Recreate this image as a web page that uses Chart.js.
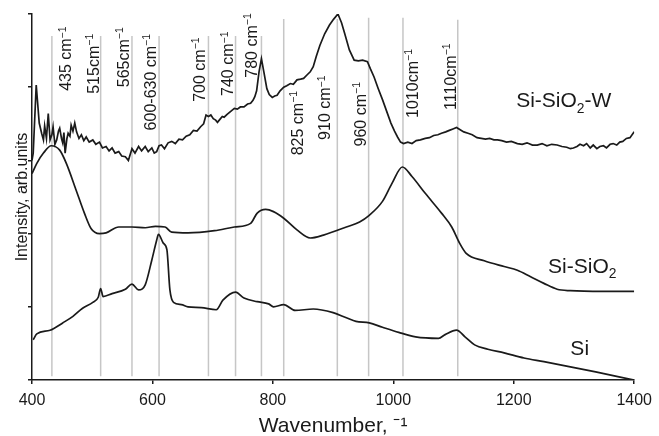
<!DOCTYPE html>
<html>
<head>
<meta charset="utf-8">
<script src="https://cdn.jsdelivr.net/npm/chart.js@4.4.1/dist/chart.umd.min.js"></script>
<style>
  html, body { margin: 0; padding: 0; background: #fff; }
  #wrap { position: relative; width: 659px; height: 436px; }
</style>
</head>
<body>
<div id="wrap"><canvas id="spectra"></canvas></div>
<script>
// Spectra: [wavenumber, intensity (arb. units, stacked)]
const siSpectrum = [
  [402,0.55],[408,0.63],[430,0.68],[451,0.78],[468,0.87],[484,0.98],[501,1.06],[510,1.13],
  [514,1.25],[518,1.14],[533,1.18],[555,1.24],[566,1.31],[577,1.23],[588,1.30],[599,1.64],
  [607,1.91],[610,1.99],[618,1.87],[624,1.78],[629,1.23],[635,1.06],[648,1.03],[659,1.00],
  [681,0.99],[706,0.96],[717,1.09],[738,1.20],[752,1.12],[774,1.07],[793,1.04],[801,1.00],
  [818,1.03],[837,0.95],[867,0.97],[900,0.92],[922,0.85],[938,0.80],[960,0.78],[982,0.72],
  [1009,0.65],[1037,0.59],[1075,0.57],[1086,0.62],[1105,0.68],[1119,0.59],[1135,0.48],
  [1157,0.42],[1184,0.37],[1217,0.30],[1250,0.25],[1294,0.18],[1336,0.11],[1400,0.00]
];

const sio2Spectrum = [
  [400,2.82],[408,2.96],[419,3.10],[432,3.20],[446,3.14],[457,2.96],[473,2.60],[487,2.28],
  [498,2.07],[512,2.00],[523,2.01],[544,2.09],[566,2.09],[588,2.08],[605,2.10],[621,2.09],
  [632,2.02],[659,2.01],[703,2.04],[736,2.09],[763,2.14],[774,2.28],[788,2.33],[801,2.30],
  [818,2.21],[840,2.05],[862,1.94],[884,1.98],[922,2.09],[944,2.16],[960,2.25],[982,2.44],
  [998,2.69],[1015,2.91],[1031,2.78],[1053,2.55],[1080,2.28],[1097,2.09],[1110,1.87],
  [1121,1.73],[1151,1.63],[1184,1.55],[1206,1.50],[1228,1.41],[1250,1.32],[1272,1.24],
  [1294,1.22],[1348,1.21],[1400,1.21]
];

const sio2wSpectrum = [
  [400,3.00],[402,3.10],[407,4.03],[412,3.51],[416,3.37],[419,3.28],[421,3.47],[424,3.30],
  [427,3.64],[430,3.28],[433,3.35],[435,3.46],[438,3.22],[441,3.28],[444,3.40],[446,3.44],
  [449,3.30],[451,3.24],[453,3.38],[455,3.10],[458,3.30],[460,3.37],[463,3.33],[465,3.48],
  [468,3.40],[471,3.51],[474,3.39],[478,3.30],[482,3.35],[486,3.27],[490,3.32],[495,3.25],
  [501,3.28],[506,3.22],[512,3.25],[517,3.17],[523,3.19],[528,3.13],[533,3.17],[538,3.10],
  [544,3.12],[549,3.06],[555,3.05],[560,3.00],[566,3.16],[571,3.10],[577,3.19],[582,3.13],
  [588,3.19],[593,3.12],[599,3.17],[603,3.10],[607,3.12],[611,3.20],[615,3.21],[620,3.16],
  [626,3.24],[632,3.26],[638,3.23],[644,3.29],[650,3.28],[656,3.33],[662,3.35],[668,3.41],
  [674,3.40],[680,3.46],[685,3.50],[689,3.62],[693,3.60],[697,3.62],[701,3.57],[705,3.55],
  [708,3.52],[712,3.56],[716,3.60],[719,3.59],[724,3.63],[730,3.67],[736,3.71],[741,3.70],
  [746,3.73],[752,3.73],[758,3.77],[763,3.78],[767,3.82],[770,3.87],[773,3.95],[777,4.21],
  [781,4.39],[785,4.21],[790,3.98],[794,3.90],[799,3.86],[803,3.88],[807,3.89],[812,3.95],
  [818,4.00],[823,4.02],[829,4.05],[834,4.04],[840,4.10],[846,4.11],[851,4.12],[857,4.17],
  [862,4.21],[867,4.28],[872,4.42],[878,4.57],[886,4.73],[894,4.85],[901,4.93],[908,5.00],
  [914,4.88],[919,4.74],[927,4.51],[935,4.37],[942,4.36],[949,4.37],[957,4.35],[962,4.25],
  [968,4.14],[975,3.98],[982,3.83],[989,3.67],[996,3.51],[1002,3.40],[1007,3.32],[1012,3.25],
  [1017,3.23],[1024,3.25],[1031,3.23],[1038,3.27],[1045,3.28],[1053,3.30],[1060,3.31],
  [1067,3.34],[1074,3.35],[1080,3.37],[1087,3.39],[1093,3.41],[1099,3.43],[1105,3.45],
  [1111,3.42],[1117,3.39],[1124,3.37],[1131,3.35],[1139,3.31],[1146,3.30],[1153,3.29],
  [1160,3.30],[1167,3.28],[1173,3.28],[1180,3.27],[1188,3.25],[1196,3.26],[1206,3.23],
  [1214,3.22],[1222,3.24],[1231,3.21],[1239,3.21],[1247,3.23],[1255,3.20],[1263,3.22],
  [1272,3.21],[1280,3.19],[1288,3.18],[1294,3.16],[1299,3.17],[1305,3.19],[1310,3.22],
  [1316,3.20],[1321,3.23],[1327,3.17],[1332,3.21],[1338,3.16],[1343,3.19],[1349,3.20],
  [1354,3.17],[1360,3.22],[1365,3.23],[1371,3.21],[1376,3.25],[1381,3.26],[1387,3.30],
  [1393,3.31],[1400,3.39]
];

// Marked band positions and their labels
const peakWn   = [433, 514, 566, 611, 693, 738, 781, 818, 907, 959, 1016, 1107];
const peakTop  = [4.70, 4.70, 4.70, 4.70, 4.70, 4.70, 4.70, 4.93, 4.93, 4.95, 4.95, 4.92];
const peakText = ['435 cm', '515cm', '565cm', '600-630 cm', '700 cm', '740 cm',
                  '780 cm', '825 cm', '910 cm', '960 cm', '1010cm', '1110cm'];

const xTicks = [400, 600, 800, 1000, 1200, 1400];

// where each rotated label starts (wavenumber of its centre line, intensity of its lower end)
const peakLabelAt = [
  [456, 3.95], [502, 3.91], [551, 4.00], [596, 3.41], [677, 3.80], [725, 3.88],
  [764, 4.13], [840, 3.07], [886, 3.28], [945, 3.19], [1031, 3.58], [1094, 3.69]
];
const seriesLabelAt = [[1204, 3.83], [1257, 1.57], [1294, 0.45]];
const seriesNames = [
  [{ t: 'Si-SiO' }, { t: '2', sub: true }, { t: '-W' }],
  [{ t: 'Si-SiO' }, { t: '2', sub: true }],
  [{ t: 'Si' }]
];

const FONT = 'Arial, "Liberation Sans", sans-serif';
const INK = '#1a1a1a';

function toPoints(arr) {
  return arr.map(p => ({ x: p[0], y: p[1] }));
}

function drawRich(ctx, parts, x, y, size, rotated) {
  ctx.save();
  ctx.translate(x, y);
  if (rotated) ctx.rotate(-Math.PI / 2);
  ctx.fillStyle = INK;
  ctx.textBaseline = 'alphabetic';
  ctx.textAlign = 'left';
  const base = size * 0.36;
  let cx = 0;
  for (const p of parts) {
    const s = (p.sup || p.sub) ? size * 0.66 : size;
    ctx.font = `${s}px ${FONT}`;
    const dy = p.sup ? -size * 0.36 : p.sub ? size * 0.26 : 0;
    ctx.fillText(p.t, cx, base + dy);
    cx += ctx.measureText(p.t).width;
  }
  ctx.restore();
}

const labelsPlugin = {
  id: 'spectraLabels',
  afterDatasetsDraw(chart) {
    const { ctx, scales: { x, y } } = chart;
    peakText.forEach((txt, i) => {
      const px = x.getPixelForValue(peakLabelAt[i][0]);
      const py = y.getPixelForValue(peakLabelAt[i][1]);
      drawRich(ctx, [{ t: txt }, { t: '\u22121', sup: true }], px, py, 16, true);
    });
    seriesNames.forEach((parts, i) => {
      const px = x.getPixelForValue(seriesLabelAt[i][0]);
      const py = y.getPixelForValue(seriesLabelAt[i][1]);
      drawRich(ctx, parts, px, py, 21, false);
    });
  }
};

const peakLines = peakWn.map((wn, i) => ({
  data: [{ x: wn, y: 0.05 }, { x: wn, y: peakTop[i] }],
  borderColor: '#c6c6c6',
  borderWidth: 1.5,
  pointRadius: 0,
  order: 2
}));

const curve = (arr, smooth) => ({
  data: toPoints(arr),
  borderColor: INK,
  borderWidth: 1.7,
  pointRadius: 0,
  tension: 0,
  cubicInterpolationMode: smooth ? 'monotone' : 'default',
  order: 1
});

new Chart(document.getElementById('spectra'), {
  type: 'line',
  data: {
    datasets: [
      ...peakLines,
      curve(sio2wSpectrum, false),
      curve(sio2Spectrum, true),
      curve(siSpectrum, true)
    ]
  },
  options: {
    responsive: true,
    maintainAspectRatio: false,
    animation: false,
    events: [],
    layout: { padding: { left: 0, right: 18, top: 14, bottom: 0 } },
    plugins: { legend: { display: false }, tooltip: { enabled: false } },
    scales: {
      x: {
        type: 'linear',
        min: 400,
        max: 1400,
        afterBuildTicks: s => { s.ticks = xTicks.map(v => ({ value: v })); },
        afterFit: s => { s.height = 56; },
        grid: { display: true, drawOnChartArea: false, drawTicks: true, tickLength: 4, color: INK, lineWidth: 1.5 },
        border: { display: true, color: INK, width: 1.5 },
        ticks: {
          color: INK, padding: 7, maxRotation: 0,
          font: { family: FONT, size: 16 },
          callback: v => String(v)
        },
        title: {
          display: true,
          text: 'Wavenumber, \u207B\u00B9',
          color: INK,
          padding: { top: 0, bottom: -1 },
          font: { family: FONT, size: 21, lineHeight: 1 }
        }
      },
      y: {
        type: 'linear',
        min: 0,
        max: 5,
        afterFit: s => { s.width = 32; },
        ticks: { display: false, stepSize: 1 },
        grid: { display: true, drawOnChartArea: false, drawTicks: true, tickLength: 4, color: INK, lineWidth: 1.5 },
        border: { display: true, color: INK, width: 1.5 },
        title: {
          display: true,
          text: 'Intensity, arb.units',
          color: INK,
          padding: { top: 13, bottom: 0 },
          font: { family: FONT, size: 16, lineHeight: 1.2 }
        }
      }
    }
  },
  plugins: [labelsPlugin]
});
</script>
</body>
</html>
